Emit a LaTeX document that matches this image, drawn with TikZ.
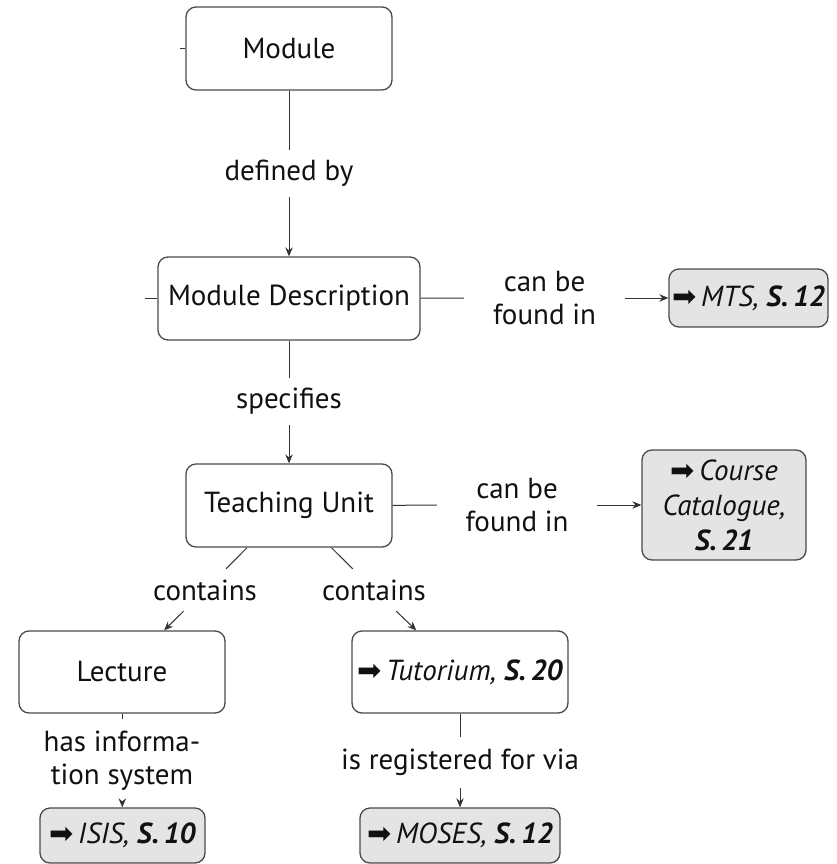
\documentclass[tikz,border=0pt]{standalone}
\usepackage{fontspec}
\setmainfont{PT Sans}
\newfontfamily\symfont{DejaVu Sans}
\usetikzlibrary{arrows.meta}
\definecolor{bordercol}{HTML}{4A4A4A}
\definecolor{linecol}{HTML}{333333}
\definecolor{grayfill}{HTML}{E4E4E4}
\definecolor{txtcol}{HTML}{111111}
\newcommand{\harr}{{\symfont\char"27A1}\,}
\begin{document}
\begin{tikzpicture}[x=1pt,y=-1pt,
  font=\fontsize{29}{33}\selectfont, text=txtcol,
  box/.style={draw=bordercol, line width=1.3pt, rounded corners=10pt, fill=white,
    align=center, inner sep=0pt},
  gbox/.style={box, fill=grayfill},
  lbl/.style={inner sep=0pt, align=center},
  conn/.style={draw=linecol, line width=1pt},
  arr/.style={conn, -{Stealth[length=9pt,width=7.5pt,inset=3pt]}}
]
\useasboundingbox (0,0) rectangle (837,864);

% boxes
\node[box, minimum width=206pt, minimum height=83pt] (mod) at (289,48.5) {Module};
\node[box, minimum width=262pt, minimum height=83pt] (md) at (289,298.5) {Module Description};
\node[gbox, minimum width=159pt, minimum height=58pt] (mts) at (748.5,298) {\harr\textit{MTS, \textbf{S.\,12}}};
\node[box, minimum width=206pt, minimum height=83pt] (tu) at (289,505.5) {Teaching Unit};
\node[gbox, minimum width=164pt, minimum height=110pt] (cc) at (724,505) {\harr\textit{Course}\\[2pt]\textit{Catalogue,}\\[2pt]\textit{\textbf{S.\,21}}};
\node[box, minimum width=206pt, minimum height=82pt] (lec) at (122,672) {Lecture};
\node[box, minimum width=216pt, minimum height=82pt] (tut) at (460,672) {\harr\textit{Tutorium, \textbf{S.\,20}}};
\node[gbox, minimum width=165pt, minimum height=55pt] (isis) at (122.5,835.5) {\harr\textit{ISIS, \textbf{S.\,10}}};
\node[gbox, minimum width=200pt, minimum height=55pt] (moses) at (460,835.5) {\harr\textit{MOSES, \textbf{S.\,12}}};

% labels
\node[lbl, minimum width=140pt, minimum height=47pt] (l1) at (289,173.5) {defined by};
\node[lbl, minimum width=161pt, minimum height=70pt] (l2) at (544.5,298) {can be\\found in};
\node[lbl, minimum width=120pt, minimum height=47pt] (l3) at (289,401.5) {specifies};
\node[lbl, minimum width=160pt, minimum height=70pt] (l4) at (517,505) {can be\\found in};
\node[lbl, minimum width=104pt, minimum height=42pt] (l5) at (205,590) {contains};
\node[lbl, minimum width=104pt, minimum height=42pt] (l6) at (374,590) {contains};
\node[lbl, minimum width=170pt, minimum height=83pt] (l7) at (122,760.5) {has informa-\\tion system};
\node[lbl, minimum width=250pt, minimum height=51pt] (l8) at (460,762.5) {is registered for via};

% stubs
\coordinate (s1) at (180,48.5);
\coordinate (s2) at (145,298.5);
\draw[conn] (s1) -- (mod.west);
\draw[conn] (s2) -- (md.west);

% connectors
\draw[conn] (mod) -- (l1);
\draw[arr] (l1) -- (md);
\draw[conn] (md) -- (l2);
\draw[arr] (l2) -- (mts);
\draw[conn] (md) -- (l3);
\draw[arr] (l3) -- (tu);
\draw[conn] (tu) -- (l4);
\draw[arr] (l4) -- (cc);
\draw[conn] (tu) -- (l5);
\draw[arr] (l5) -- (lec);
\draw[conn] (tu) -- (l6);
\draw[arr] (l6) -- (tut);
\draw[conn] (lec) -- (l7);
\draw[arr] (l7) -- (isis);
\draw[conn] (tut) -- (l8);
\draw[arr] (l8) -- (moses);
\end{tikzpicture}
\end{document}
